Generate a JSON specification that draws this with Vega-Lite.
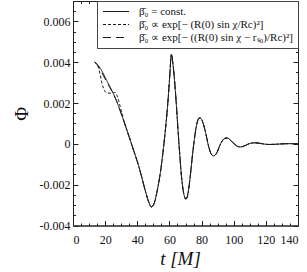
{
  "$schema": "https://vega.github.io/schema/vega-lite/v6.json",
  "width": 225,
  "height": 224.5,
  "autosize": {"type": "none"},
  "padding": {"left": 73, "top": 1, "right": 9, "bottom": 46.5},
  "background": "white",
  "config": {
    "view": {"stroke": "#222", "strokeWidth": 1},
    "axis": {"domainColor": "#222", "tickColor": "#222", "labelColor": "#111", "grid": false, "labelFont": "Liberation Serif", "labelFontSize": 12, "titleFont": "Liberation Serif", "titleFontWeight": "normal", "titleColor": "#111"},
    "legend": {"labelFont": "Liberation Serif"}
  },
  "datasets": {
    "curves": [
      {"s": "a", "t": 13.5, "v": 0.004},
      {"s": "a", "t": 15, "v": 0.0039},
      {"s": "a", "t": 17, "v": 0.0037},
      {"s": "a", "t": 19, "v": 0.00342},
      {"s": "a", "t": 21, "v": 0.0031},
      {"s": "a", "t": 23, "v": 0.0028},
      {"s": "a", "t": 25, "v": 0.00248},
      {"s": "a", "t": 27, "v": 0.00212},
      {"s": "a", "t": 29, "v": 0.0017},
      {"s": "a", "t": 31, "v": 0.00125},
      {"s": "a", "t": 33, "v": 0.0008},
      {"s": "a", "t": 35, "v": 0.00033},
      {"s": "a", "t": 37, "v": -0.00015},
      {"s": "a", "t": 39, "v": -0.00062},
      {"s": "a", "t": 41, "v": -0.00112},
      {"s": "a", "t": 43, "v": -0.0017},
      {"s": "a", "t": 45, "v": -0.0023},
      {"s": "a", "t": 47, "v": -0.00282},
      {"s": "a", "t": 48.7, "v": -0.00309},
      {"s": "a", "t": 50, "v": -0.003},
      {"s": "a", "t": 51, "v": -0.0028},
      {"s": "a", "t": 52, "v": -0.00245},
      {"s": "a", "t": 53, "v": -0.00205},
      {"s": "a", "t": 54, "v": -0.0016},
      {"s": "a", "t": 55, "v": -0.00105},
      {"s": "a", "t": 56, "v": -0.0004},
      {"s": "a", "t": 57, "v": 0.0003},
      {"s": "a", "t": 58, "v": 0.0011},
      {"s": "a", "t": 59, "v": 0.002},
      {"s": "a", "t": 60, "v": 0.0031},
      {"s": "a", "t": 60.5, "v": 0.0037},
      {"s": "a", "t": 60.9, "v": 0.00425},
      {"s": "a", "t": 61.2, "v": 0.00438},
      {"s": "a", "t": 61.5, "v": 0.00432},
      {"s": "a", "t": 61.9, "v": 0.0041},
      {"s": "a", "t": 62.5, "v": 0.0037},
      {"s": "a", "t": 63.5, "v": 0.0028},
      {"s": "a", "t": 64.5, "v": 0.0017},
      {"s": "a", "t": 65.5, "v": 0.0005},
      {"s": "a", "t": 66.5, "v": -0.0006},
      {"s": "a", "t": 67.5, "v": -0.0016},
      {"s": "a", "t": 68.5, "v": -0.00225},
      {"s": "a", "t": 69.5, "v": -0.00262},
      {"s": "a", "t": 70.3, "v": -0.00271},
      {"s": "a", "t": 71, "v": -0.00262},
      {"s": "a", "t": 72, "v": -0.0022},
      {"s": "a", "t": 73, "v": -0.00155},
      {"s": "a", "t": 74, "v": -0.0008},
      {"s": "a", "t": 75, "v": -0.0001},
      {"s": "a", "t": 76, "v": 0.0005},
      {"s": "a", "t": 77, "v": 0.00095},
      {"s": "a", "t": 78, "v": 0.00122},
      {"s": "a", "t": 79, "v": 0.00128},
      {"s": "a", "t": 80, "v": 0.0012},
      {"s": "a", "t": 81, "v": 0.001},
      {"s": "a", "t": 82, "v": 0.00072},
      {"s": "a", "t": 83, "v": 0.00038},
      {"s": "a", "t": 84, "v": 0.0},
      {"s": "a", "t": 85, "v": -0.0003},
      {"s": "a", "t": 86, "v": -0.0005},
      {"s": "a", "t": 87.5, "v": -0.00059},
      {"s": "a", "t": 89, "v": -0.0005},
      {"s": "a", "t": 90, "v": -0.00035},
      {"s": "a", "t": 91, "v": -0.00015},
      {"s": "a", "t": 92, "v": 0.00003},
      {"s": "a", "t": 93, "v": 0.00016},
      {"s": "a", "t": 94.5, "v": 0.00027},
      {"s": "a", "t": 95.8, "v": 0.00029},
      {"s": "a", "t": 97, "v": 0.00025},
      {"s": "a", "t": 98.5, "v": 0.00014},
      {"s": "a", "t": 100, "v": 0.00002},
      {"s": "a", "t": 101.5, "v": -0.00008},
      {"s": "a", "t": 103, "v": -0.00014},
      {"s": "a", "t": 104.5, "v": -0.00015},
      {"s": "a", "t": 106, "v": -0.00012},
      {"s": "a", "t": 108, "v": -0.00005},
      {"s": "a", "t": 110, "v": 0.00002},
      {"s": "a", "t": 113, "v": 0.00005},
      {"s": "a", "t": 116, "v": 0.00003},
      {"s": "a", "t": 119, "v": -0.00001},
      {"s": "a", "t": 122, "v": -0.00003},
      {"s": "a", "t": 126, "v": -0.00002},
      {"s": "a", "t": 130, "v": 0.0},
      {"s": "a", "t": 134, "v": 0.00001},
      {"s": "a", "t": 140, "v": 0.0},
      {"s": "b", "t": 13.5, "v": 0.004},
      {"s": "b", "t": 15, "v": 0.0039},
      {"s": "b", "t": 16, "v": 0.0037},
      {"s": "b", "t": 17, "v": 0.00335},
      {"s": "b", "t": 18, "v": 0.00298},
      {"s": "b", "t": 19, "v": 0.00272},
      {"s": "b", "t": 20, "v": 0.00256},
      {"s": "b", "t": 21, "v": 0.0025},
      {"s": "b", "t": 23, "v": 0.00248},
      {"s": "b", "t": 25, "v": 0.0025},
      {"s": "b", "t": 26.3, "v": 0.00252},
      {"s": "b", "t": 27.3, "v": 0.00238},
      {"s": "b", "t": 28.4, "v": 0.00212},
      {"s": "b", "t": 29.5, "v": 0.00178},
      {"s": "b", "t": 30.5, "v": 0.0015},
      {"s": "b", "t": 31.5, "v": 0.00118},
      {"s": "b", "t": 33, "v": 0.0008},
      {"s": "b", "t": 35, "v": 0.00033},
      {"s": "b", "t": 37, "v": -0.00015},
      {"s": "b", "t": 39, "v": -0.00062},
      {"s": "b", "t": 41, "v": -0.00112},
      {"s": "b", "t": 43, "v": -0.0017},
      {"s": "b", "t": 45, "v": -0.0023},
      {"s": "b", "t": 47, "v": -0.00282},
      {"s": "b", "t": 48.7, "v": -0.00309},
      {"s": "b", "t": 50, "v": -0.003},
      {"s": "b", "t": 51, "v": -0.0028},
      {"s": "b", "t": 52, "v": -0.00245},
      {"s": "b", "t": 53, "v": -0.00205},
      {"s": "b", "t": 54, "v": -0.0016},
      {"s": "b", "t": 55, "v": -0.00105},
      {"s": "b", "t": 56, "v": -0.0004},
      {"s": "b", "t": 57, "v": 0.0003},
      {"s": "b", "t": 58, "v": 0.0011},
      {"s": "b", "t": 59, "v": 0.002},
      {"s": "b", "t": 60, "v": 0.0031},
      {"s": "b", "t": 60.5, "v": 0.0037},
      {"s": "b", "t": 60.9, "v": 0.00425},
      {"s": "b", "t": 61.2, "v": 0.00438},
      {"s": "b", "t": 61.5, "v": 0.00432},
      {"s": "b", "t": 61.9, "v": 0.0041},
      {"s": "b", "t": 62.5, "v": 0.0037},
      {"s": "b", "t": 63.5, "v": 0.0028},
      {"s": "b", "t": 64.5, "v": 0.0017},
      {"s": "b", "t": 65.5, "v": 0.0005},
      {"s": "b", "t": 66.5, "v": -0.0006},
      {"s": "b", "t": 67.5, "v": -0.0016},
      {"s": "b", "t": 68.5, "v": -0.00225},
      {"s": "b", "t": 69.5, "v": -0.00262},
      {"s": "b", "t": 70.3, "v": -0.00271},
      {"s": "b", "t": 71, "v": -0.00262},
      {"s": "b", "t": 72, "v": -0.0022},
      {"s": "b", "t": 73, "v": -0.00155},
      {"s": "b", "t": 74, "v": -0.0008},
      {"s": "b", "t": 75, "v": -0.0001},
      {"s": "b", "t": 76, "v": 0.0005},
      {"s": "b", "t": 77, "v": 0.00095},
      {"s": "b", "t": 78, "v": 0.00122},
      {"s": "b", "t": 79, "v": 0.00128},
      {"s": "b", "t": 80, "v": 0.0012},
      {"s": "b", "t": 81, "v": 0.001},
      {"s": "b", "t": 82, "v": 0.00072},
      {"s": "b", "t": 83, "v": 0.00038},
      {"s": "b", "t": 84, "v": 0.0},
      {"s": "b", "t": 85, "v": -0.0003},
      {"s": "b", "t": 86, "v": -0.0005},
      {"s": "b", "t": 87.5, "v": -0.00059},
      {"s": "b", "t": 89, "v": -0.0005},
      {"s": "b", "t": 90, "v": -0.00035},
      {"s": "b", "t": 91, "v": -0.00015},
      {"s": "b", "t": 92, "v": 0.00003},
      {"s": "b", "t": 93, "v": 0.00016},
      {"s": "b", "t": 94.5, "v": 0.00027},
      {"s": "b", "t": 95.8, "v": 0.00029},
      {"s": "b", "t": 97, "v": 0.00025},
      {"s": "b", "t": 98.5, "v": 0.00014},
      {"s": "b", "t": 100, "v": 0.00002},
      {"s": "b", "t": 101.5, "v": -0.00008},
      {"s": "b", "t": 103, "v": -0.00014},
      {"s": "b", "t": 104.5, "v": -0.00015},
      {"s": "b", "t": 106, "v": -0.00012},
      {"s": "b", "t": 108, "v": -0.00005},
      {"s": "b", "t": 110, "v": 0.00002},
      {"s": "b", "t": 113, "v": 0.00005},
      {"s": "b", "t": 116, "v": 0.00003},
      {"s": "b", "t": 119, "v": -0.00001},
      {"s": "b", "t": 122, "v": -0.00003},
      {"s": "b", "t": 126, "v": -0.00002},
      {"s": "b", "t": 130, "v": 0.0},
      {"s": "b", "t": 134, "v": 0.00001},
      {"s": "b", "t": 140, "v": 0.0},
      {"s": "c", "t": 13.5, "v": 0.004},
      {"s": "c", "t": 15, "v": 0.00388},
      {"s": "c", "t": 17, "v": 0.00362},
      {"s": "c", "t": 19, "v": 0.00333},
      {"s": "c", "t": 21, "v": 0.00303},
      {"s": "c", "t": 23, "v": 0.00275},
      {"s": "c", "t": 25, "v": 0.00245},
      {"s": "c", "t": 27, "v": 0.00212},
      {"s": "c", "t": 29, "v": 0.0017},
      {"s": "c", "t": 31, "v": 0.00125},
      {"s": "c", "t": 33, "v": 0.0008},
      {"s": "c", "t": 35, "v": 0.00033},
      {"s": "c", "t": 37, "v": -0.00015},
      {"s": "c", "t": 39, "v": -0.00062},
      {"s": "c", "t": 41, "v": -0.00112},
      {"s": "c", "t": 43, "v": -0.0017},
      {"s": "c", "t": 45, "v": -0.0023},
      {"s": "c", "t": 47, "v": -0.00282},
      {"s": "c", "t": 48.7, "v": -0.00309},
      {"s": "c", "t": 50, "v": -0.003},
      {"s": "c", "t": 51, "v": -0.0028},
      {"s": "c", "t": 52, "v": -0.00245},
      {"s": "c", "t": 53, "v": -0.00205},
      {"s": "c", "t": 54, "v": -0.0016},
      {"s": "c", "t": 55, "v": -0.00105},
      {"s": "c", "t": 56, "v": -0.0004},
      {"s": "c", "t": 57, "v": 0.0003},
      {"s": "c", "t": 58, "v": 0.0011},
      {"s": "c", "t": 59, "v": 0.002},
      {"s": "c", "t": 60, "v": 0.0031},
      {"s": "c", "t": 60.5, "v": 0.0037},
      {"s": "c", "t": 60.9, "v": 0.00425},
      {"s": "c", "t": 61.2, "v": 0.00438},
      {"s": "c", "t": 61.5, "v": 0.00432},
      {"s": "c", "t": 61.9, "v": 0.0041},
      {"s": "c", "t": 62.5, "v": 0.0037},
      {"s": "c", "t": 63.5, "v": 0.0028},
      {"s": "c", "t": 64.5, "v": 0.0017},
      {"s": "c", "t": 65.5, "v": 0.0005},
      {"s": "c", "t": 66.5, "v": -0.0006},
      {"s": "c", "t": 67.5, "v": -0.0016},
      {"s": "c", "t": 68.5, "v": -0.00225},
      {"s": "c", "t": 69.5, "v": -0.00262},
      {"s": "c", "t": 70.3, "v": -0.00271},
      {"s": "c", "t": 71, "v": -0.00262},
      {"s": "c", "t": 72, "v": -0.0022},
      {"s": "c", "t": 73, "v": -0.00155},
      {"s": "c", "t": 74, "v": -0.0008},
      {"s": "c", "t": 75, "v": -0.0001},
      {"s": "c", "t": 76, "v": 0.0005},
      {"s": "c", "t": 77, "v": 0.00095},
      {"s": "c", "t": 78, "v": 0.00122},
      {"s": "c", "t": 79, "v": 0.00128},
      {"s": "c", "t": 80, "v": 0.0012},
      {"s": "c", "t": 81, "v": 0.001},
      {"s": "c", "t": 82, "v": 0.00072},
      {"s": "c", "t": 83, "v": 0.00038},
      {"s": "c", "t": 84, "v": 0.0},
      {"s": "c", "t": 85, "v": -0.0003},
      {"s": "c", "t": 86, "v": -0.0005},
      {"s": "c", "t": 87.5, "v": -0.00059},
      {"s": "c", "t": 89, "v": -0.0005},
      {"s": "c", "t": 90, "v": -0.00035},
      {"s": "c", "t": 91, "v": -0.00015},
      {"s": "c", "t": 92, "v": 0.00003},
      {"s": "c", "t": 93, "v": 0.00016},
      {"s": "c", "t": 94.5, "v": 0.00027},
      {"s": "c", "t": 95.8, "v": 0.00029},
      {"s": "c", "t": 97, "v": 0.00025},
      {"s": "c", "t": 98.5, "v": 0.00014},
      {"s": "c", "t": 100, "v": 0.00002},
      {"s": "c", "t": 101.5, "v": -0.00008},
      {"s": "c", "t": 103, "v": -0.00014},
      {"s": "c", "t": 104.5, "v": -0.00015},
      {"s": "c", "t": 106, "v": -0.00012},
      {"s": "c", "t": 108, "v": -0.00005},
      {"s": "c", "t": 110, "v": 0.00002},
      {"s": "c", "t": 113, "v": 0.00005},
      {"s": "c", "t": 116, "v": 0.00003},
      {"s": "c", "t": 119, "v": -0.00001},
      {"s": "c", "t": 122, "v": -0.00003},
      {"s": "c", "t": 126, "v": -0.00002},
      {"s": "c", "t": 130, "v": 0.0},
      {"s": "c", "t": 134, "v": 0.00001},
      {"s": "c", "t": 140, "v": 0.0}
    ]
  },
  "data": {"name": "curves"},
  "resolve": {"axis": {"x": "independent", "y": "independent"}},
  "layer": [
    {
      "mark": {"type": "line", "color": "#1a1a1a", "strokeWidth": 1, "interpolate": "monotone"},
      "encoding": {
        "x": {"field": "t", "type": "quantitative", "scale": {"domain": [0, 140], "nice": false, "zero": false},
          "axis": {"orient": "bottom", "values": [0, 20, 40, 60, 80, 100, 120, 140], "tickSize": -5, "labelPadding": 14, "labelBaseline": "top", "title": "t  [M]", "titleFontStyle": "italic", "titleFontSize": 19, "titlePadding": 4, "titleX": 107}},
        "y": {"field": "v", "type": "quantitative", "scale": {"domain": [-0.004, 0.007], "nice": false, "zero": false},
          "axis": {"orient": "left", "values": [-0.004, -0.002, 0, 0.002, 0.004, 0.006], "tickSize": -5, "labelPadding": 8, "labelExpr": "datum.value == 0 ? '0' : replace(format(datum.value, '.3f'), '\u2212', '-')", "title": "Φ", "titleFontSize": 19, "titlePadding": 8}},
        "strokeDash": {"field": "s", "type": "nominal",
          "scale": {"domain": ["a", "b", "c"], "range": [[1, 0], [3, 2], [8, 5]]},
          "legend": {"orient": "top-right", "offset": 0, "title": null, "fillColor": "white", "strokeColor": "#444", "padding": 5, "labelFontSize": 11, "labelColor": "#111", "labelLimit": 400, "symbolType": "M-1,0H4.8", "symbolSize": 81, "symbolStrokeWidth": 1, "symbolStrokeColor": "#1a1a1a", "labelOffset": 26, "rowPadding": 1,
            "labelExpr": "datum.label == 'a' ? 'β̄₀ = const.' : datum.label == 'b' ? 'β̄₀ ∝ exp[− (R(0) sin χ/Rc)²]' : 'β̄₀ ∝ exp[− ((R(0) sin χ − rₛ₀)/Rc)²]'"}}
      }
    },
    {
      "mark": {"type": "point", "opacity": 0},
      "encoding": {
        "x": {"field": "t", "type": "quantitative", "scale": {"domain": [0, 140], "nice": false, "zero": false},
          "axis": {"orient": "bottom", "values": [5, 10, 15, 25, 30, 35, 45, 50, 55, 65, 70, 75, 85, 90, 95, 105, 110, 115, 125, 130, 135], "tickSize": -2.5, "labels": false, "domain": false, "title": null}},
        "y": {"field": "v", "type": "quantitative", "scale": {"domain": [-0.004, 0.007], "nice": false, "zero": false},
          "axis": {"orient": "left", "values": [-0.0035, -0.003, -0.0025, -0.0015, -0.001, -0.0005, 0.0005, 0.001, 0.0015, 0.0025, 0.003, 0.0035, 0.0045, 0.005, 0.0055, 0.0065, 0.007], "tickSize": -2.5, "labels": false, "domain": false, "title": null}}
      }
    },
    {
      "mark": {"type": "point", "opacity": 0},
      "encoding": {
        "x": {"field": "t", "type": "quantitative", "scale": {"domain": [0, 140], "nice": false, "zero": false},
          "axis": {"orient": "top", "values": [0, 20, 40, 60, 80, 100, 120, 140], "tickSize": -5, "labels": false, "title": null}},
        "y": {"field": "v", "type": "quantitative", "scale": {"domain": [-0.004, 0.007], "nice": false, "zero": false},
          "axis": {"orient": "right", "values": [-0.004, -0.002, 0, 0.002, 0.004, 0.006], "tickSize": -5, "labels": false, "title": null}}
      }
    },
    {
      "mark": {"type": "point", "opacity": 0},
      "encoding": {
        "x": {"field": "t", "type": "quantitative", "scale": {"domain": [0, 140], "nice": false, "zero": false},
          "axis": {"orient": "top", "values": [5, 10, 15, 25, 30, 35, 45, 50, 55, 65, 70, 75, 85, 90, 95, 105, 110, 115, 125, 130, 135], "tickSize": -2.5, "labels": false, "domain": false, "title": null}},
        "y": {"field": "v", "type": "quantitative", "scale": {"domain": [-0.004, 0.007], "nice": false, "zero": false},
          "axis": {"orient": "right", "values": [-0.0035, -0.003, -0.0025, -0.0015, -0.001, -0.0005, 0.0005, 0.001, 0.0015, 0.0025, 0.003, 0.0035, 0.0045, 0.005, 0.0055, 0.0065, 0.007], "tickSize": -2.5, "labels": false, "domain": false, "title": null}}
      }
    }
  ]
}
